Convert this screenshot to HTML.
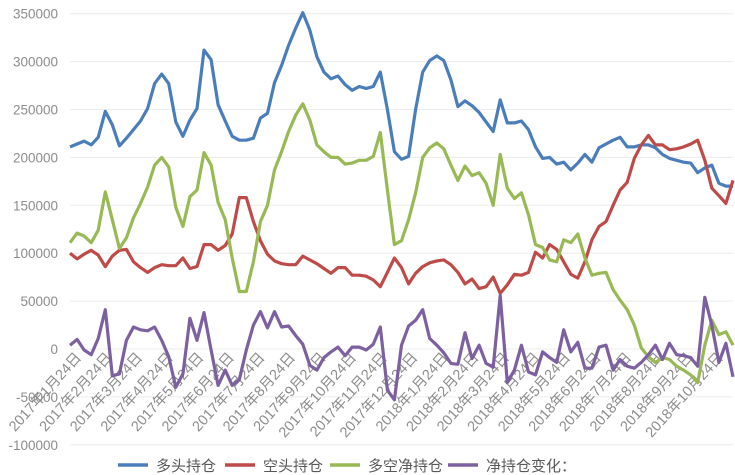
<!DOCTYPE html>
<html><head><meta charset="utf-8"><style>
html,body{margin:0;padding:0;background:#fff;}
svg{display:block;font-family:"Liberation Sans","Noto Sans CJK SC",sans-serif;}
</style></head><body>
<svg id="chart" width="735" height="475"></svg>
<script>
const yTicks=[350000,300000,250000,200000,150000,100000,50000,0,-50000,-100000];
const monthLabels=["2017年1月24日","2017年2月24日","2017年3月24日","2017年4月24日","2017年5月24日","2017年6月24日","2017年7月24日","2017年8月24日","2017年9月24日","2017年10月24日","2017年11月24日","2017年12月24日","2018年1月24日","2018年2月24日","2018年3月24日","2018年4月24日","2018年5月24日","2018年6月24日","2018年7月24日","2018年8月24日","2018年9月24日","2018年10月24日"];
const seriesNames=["多头持仓","空头持仓","多空净持仓","净持仓变化："];
const longPos=[211,214,217,213,221,248,234,212,220,229,238,251,277,287,277,237,222,239,251,312,302,255,238,222,218,218,220,241,246,278,296,317,335,351,333,305,289,282,285,276,270,274,272,274,289,250,206,198,201,250,289,301,306,301,281,253,259,254,247,237,227,260,236,236,238,229,211,199,200,193,195,187,194,203,195,210,214,218,221,211,211,213,213,210,203,199,197,195,194,184,189,192,173,170,170];
const shortPos=[100,94,99,103,98,86,97,103,104,91,85,80,85,88,87,87,95,84,86,109,109,103,108,120,158,158,133,113,99,92,89,88,88,97,93,89,84,79,85,85,77,77,76,72,65,80,95,85,68,79,86,90,92,93,88,80,68,73,63,65,75,58,67,78,77,80,101,95,109,104,91,78,74,91,114,128,133,150,166,174,199,213,223,213,213,208,209,211,214,218,197,168,160,152,176];
const netPos=[111,121,118,111,124,164,135,105,116,137,152,169,192,200,190,148,128,159,166,205,192,153,135,95,60,60,91,133,150,187,206,227,244,256,239,213,206,200,200,193,194,197,197,201,226,166,109,113,135,163,200,210,215,209,192,176,191,181,184,173,150,203,168,157,163,140,109,106,93,91,114,111,120,95,77,79,80,62,51,41,25,1,-8,-14,-9,-11,-18,-22,-27,-35,4,30,15,18,4];
const netChange=[4,10,-1,-6,11,41,-28,-26,9,23,20,19,23,9,-8,-40,-26,32,9,38,-1,-38,-22,-38,-32,-1,25,39,22,39,23,24,14,5,-17,-22,-9,-3,2,-7,2,2,-1,5,23,-43,-53,4,24,30,41,11,4,-4,-15,-16,17,-10,4,-15,-19,56,-35,-22,4,-24,-27,-3,-9,-14,20,-3,7,-20,-20,2,4,-22,-11,-18,-20,-14,-6,4,-11,6,-6,-7,-9,-18,54,25,-14,6,-29];
const colors=["#4a7ebb","#be4b48","#98b954","#7d60a0"];
const NS="http://www.w3.org/2000/svg";
const svg=document.getElementById("chart");
const X0=70,X1=733,Y0=349,PX=47.9/50000;
const n=longPos.length;
const xScale=i=>X0+(X1-X0)*i/(n-1);
const yScale=v=>Y0-v*PX;
function mk(tag,attrs){const e=document.createElementNS(NS,tag);for(const k in attrs)e.setAttribute(k,attrs[k]);svg.appendChild(e);return e;}
yTicks.forEach(t=>{
  const g=mk("line",{x1:X0,x2:X1,y1:yScale(t),y2:yScale(t),stroke:"#ececec","stroke-width":1});
  
  
  const l=mk("text",{x:58,y:yScale(t)+5,"text-anchor":"end","font-size":"13.5",fill:"#8c8c8c"});
  l.textContent=String(t);
  
  
});
const mStep=30.57;
monthLabels.forEach((m,k)=>{
  const x=82+mStep*k,y=358;
  const t=mk("text",{x:x,y:y,"text-anchor":"end","font-size":"14.5",fill:"#8c8c8c",transform:`rotate(-48 ${x} ${y})`});
  t.textContent=m;
  
  
});
[longPos,shortPos,netPos,netChange].forEach((s,si)=>{
  const d=s.map((v,i)=>(i?"L":"M")+xScale(i).toFixed(1)+","+yScale(v*1000).toFixed(1)).join("");
  const p=mk("path",{d:d,fill:"none",stroke:colors[si],"stroke-width":3.2,"stroke-linejoin":"round"});
  
  
});
const legX=[118,225,330,448];
seriesNames.forEach((nm,i)=>{
  const l=mk("line",{x1:legX[i],x2:legX[i]+30,y1:465,y2:465,stroke:colors[i],"stroke-width":3.5});
  
  
  const t=mk("text",{x:legX[i]+38,y:471,"font-size":"15",fill:"#595959"});
  t.textContent=nm;
  
  
});
</script>
</body></html>
